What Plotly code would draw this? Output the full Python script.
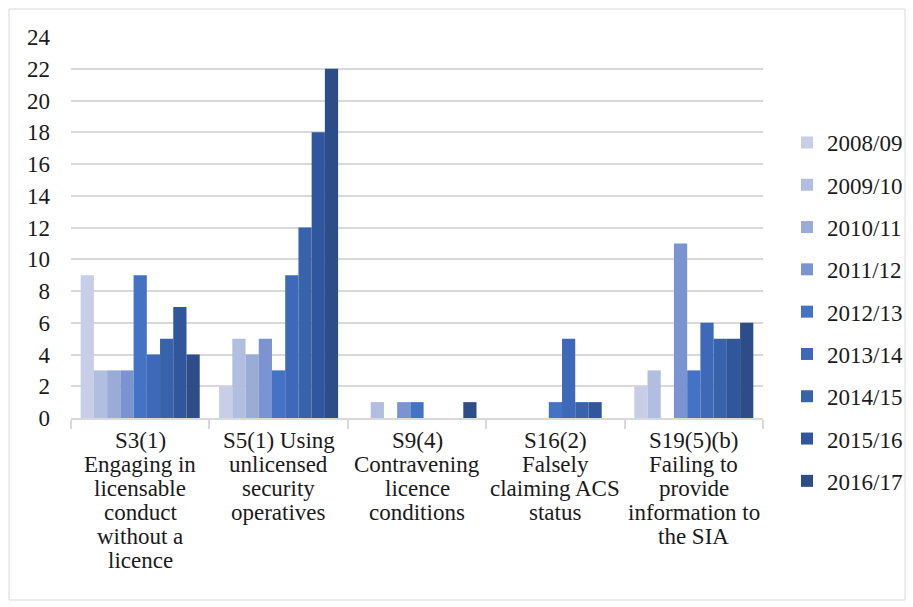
import plotly.graph_objects as go

# Offence categories (x axis); each label is split into its display lines
categories = ["S3(1)", "S5(1)", "S9(4)", "S16(2)", "S19(5)(b)"]
category_lines = [
    ["S3(1)", "Engaging in", "licensable", "conduct", "without a", "licence"],
    ["S5(1) Using", "unlicensed", "security", "operatives"],
    ["S9(4)", "Contravening", "licence", "conditions"],
    ["S16(2)", "Falsely", "claiming ACS", "status"],
    ["S19(5)(b)", "Failing to", "provide", "information to", "the SIA"],
]

years = ["2008/09", "2009/10", "2010/11", "2011/12", "2012/13",
         "2013/14", "2014/15", "2015/16", "2016/17"]

v_2008_09 = [9, 2, 0, 0, 2]
v_2009_10 = [3, 5, 1, 0, 3]
v_2010_11 = [3, 4, 0, 0, 0]
v_2011_12 = [3, 5, 1, 0, 11]
v_2012_13 = [9, 3, 1, 1, 3]
v_2013_14 = [4, 9, 0, 5, 6]
v_2014_15 = [5, 12, 0, 1, 5]
v_2015_16 = [7, 18, 0, 1, 5]
v_2016_17 = [4, 22, 1, 0, 6]

series = [v_2008_09, v_2009_10, v_2010_11, v_2011_12, v_2012_13,
          v_2013_14, v_2014_15, v_2015_16, v_2016_17]

colors = ["#C8CEE7", "#B2BEE0", "#9AABD6", "#7B93D0", "#4472C4",
          "#3D69B8", "#3862A9", "#30579E", "#2C4D87"]

y_ticks = list(range(0, 25, 2))

fig = go.Figure()
for name, vals, col in zip(years, series, colors):
    fig.add_trace(go.Bar(
        x=categories, y=vals, name=name, legendgroup=name,
        marker=dict(color=col, line=dict(width=0)),
    ))

W, H = 913, 607
ml, mr, mt, mb = 71, 150, 37, 189
pw, ph = W - ml - mr, H - mt - mb

def px_to_paper_x(px):
    return (px - ml) / pw

def px_to_paper_y(py):
    return (H - mb - py) / ph

font_family = "Liberation Serif, Times New Roman, serif"
text_color = "#1a1a1a"
font_size = 23

# Category labels drawn line by line for tight line spacing
annotations = []
for cat, lines in zip(categories, category_lines):
    for i, line in enumerate(lines):
        annotations.append(dict(
            x=cat, xref="x", y=px_to_paper_y(440 + 24 * i), yref="paper",
            text=line, showarrow=False, xanchor="center", yanchor="middle",
            font=dict(family=font_family, size=font_size, color=text_color),
        ))

fig.update_layout(
    width=W, height=H,
    margin=dict(l=ml, r=mr, t=mt, b=mb, autoexpand=False),
    paper_bgcolor="white", plot_bgcolor="white",
    barmode="group", bargap=0.14, bargroupgap=0,
    font=dict(family=font_family, size=font_size, color=text_color),
    showlegend=True,
    legend=dict(
        x=px_to_paper_x(787),
        yref="container", y=(H - 121) / H,
        xanchor="left", yanchor="top",
        maxheight=1,
        font=dict(family=font_family, size=font_size, color=text_color),
        tracegroupgap=9.4, itemwidth=30,
        bgcolor="rgba(0,0,0,0)",
    ),
    xaxis=dict(
        type="category",
        showgrid=False,
        showline=True, linecolor="#d9d9d9", linewidth=1.5,
        ticks="outside", tickson="boundaries", ticklen=9,
        tickcolor="#d9d9d9", tickwidth=1.5,
        showticklabels=False,
    ),
    yaxis=dict(
        range=[0, 24], tickvals=y_ticks,
        showgrid=True, gridcolor="#d9d9d9", gridwidth=1.5,
        zeroline=False, showline=False,
        tickfont=dict(family=font_family, size=font_size, color=text_color),
        ticks="", ticklabelstandoff=20,
    ),
    annotations=annotations,
    shapes=[dict(
        type="rect", xref="paper", yref="paper",
        x0=px_to_paper_x(9), x1=px_to_paper_x(905),
        y0=px_to_paper_y(600), y1=px_to_paper_y(9),
        line=dict(color="#d9d9d9", width=1), fillcolor="rgba(0,0,0,0)",
        layer="below",
    )],
)

fig.write_html("out.html")
